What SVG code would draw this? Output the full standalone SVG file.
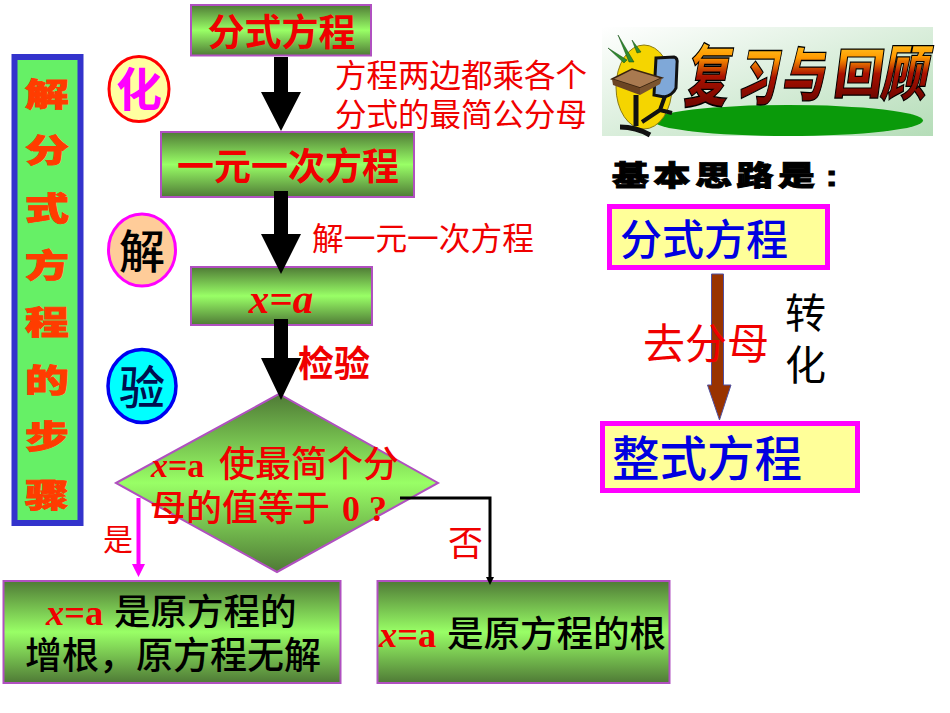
<svg xmlns="http://www.w3.org/2000/svg" width="950" height="713" viewBox="0 0 950 713">
<style>
text{font-family:"Noto Sans CJK SC","Liberation Serif",serif}
.fc{stroke:#B050C0;stroke-width:2;fill:url(#g)}
.ctr{text-anchor:middle}
.r{fill:#F00000}
.hb{font-weight:700}
.st{fill:#FF3C00;stroke:#FF3C00;stroke-width:1.2;font-weight:900;font-size:44px;text-anchor:middle}
.lat{font-family:"Liberation Serif",serif;font-weight:700}
.it{font-style:italic}
.logo{font-weight:900;font-size:56px;text-anchor:middle;stroke:#000;stroke-width:1.2;fill:url(#lg)}
.mag{fill:#FFFF99;stroke:#FF00FF;stroke-width:5}
</style>
<defs>
<linearGradient id="g" x1="0" y1="0" x2="0" y2="1"><stop offset="0" stop-color="#4F7A36"/><stop offset=".5" stop-color="#99FF66"/><stop offset="1" stop-color="#4F7A36"/></linearGradient>
<linearGradient id="lg" x1="0" y1="0" x2="0" y2="1"><stop offset="0" stop-color="#FFEE44"/><stop offset=".35" stop-color="#FF9900"/><stop offset=".55" stop-color="#AA1100"/><stop offset="1" stop-color="#550000"/></linearGradient>
<linearGradient id="bg" x1="0" y1="0" x2="1" y2="1"><stop offset="0" stop-color="#FFFFFF"/><stop offset="1" stop-color="#B5DDB8"/></linearGradient>
</defs>

<g id="side-panel"><rect x="14.500" y="57" width="66" height="466" fill="#66F066" stroke="#3333CC" stroke-width="6"/>
<text class="st" transform="translate(47,106) scale(1,.72)">解</text><text class="st" transform="translate(47,162) scale(1,.72)">分</text><text class="st" transform="translate(47,220) scale(1,.72)">式</text><text class="st" transform="translate(47,277) scale(1,.72)">方</text><text class="st" transform="translate(47,334) scale(1,.72)">程</text><text class="st" transform="translate(47,392) scale(1,.72)">的</text><text class="st" transform="translate(47,448) scale(1,.72)">步</text><text class="st" transform="translate(47,507) scale(1,.72)">骤</text></g>

<g id="step-hua"><ellipse cx="139" cy="89" rx="30" ry="32.500" fill="#FFFFA0" stroke="#FF0000" stroke-width="3"/><text class="ctr hb" x="139" y="106" font-size="46" fill="#FF00FF">化</text></g>
<g id="step-jie"><ellipse cx="142" cy="250" rx="33.500" ry="36" fill="#FFCC99" stroke="#FF00FF" stroke-width="3"/><text class="ctr" x="142" y="268" font-size="46" font-weight="500" fill="#000">解</text></g>
<g id="step-yan"><ellipse cx="142" cy="386" rx="34" ry="36.500" fill="#00FFFF" stroke="#0000F0" stroke-width="3.500"/><text class="ctr" x="142" y="404" font-size="46" font-weight="500" fill="#001050">验</text></g>

<g id="node-fenshi"><rect class="fc" x="191" y="5" width="180" height="50.500"/><text class="ctr hb r" x="281.500" y="46" font-size="37">分式方程</text></g>
<g id="node-yiyuan"><rect class="fc" x="161" y="132" width="253" height="65"/><text class="ctr hb r" x="288" y="180" font-size="37">一元一次方程</text></g>
<g id="node-xa"><rect class="fc" x="191" y="267" width="181" height="58"/><text class="ctr lat it r" x="281" y="313" font-size="41">x=a</text></g>
<g id="node-check"><polygon class="fc" points="116,483 279,394 438,483 277,572"/>
<text class="r" x="151" y="477" font-size="36"><tspan class="lat it" font-size="34">x</tspan><tspan class="lat" font-size="34">=a</tspan><tspan font-weight="500" x="219">使最简个分</tspan></text>
<text class="r" x="150" y="521" font-size="36" font-weight="500">母的值等于<tspan class="lat" x="342">0 ?</tspan></text></g>
<g id="node-zeng"><rect class="fc" x="3.500" y="581" width="337" height="102"/>
<text x="46" y="625" font-size="36.500"><tspan class="lat it r">x</tspan><tspan class="lat r">=a</tspan><tspan font-weight="500" x="114">是原方程的</tspan></text>
<text x="25" y="669" font-size="37" font-weight="500">增根，原方程无解</text></g>
<g id="node-root"><rect class="fc" x="377.500" y="581" width="292" height="102"/>
<text x="379" y="647" font-size="36.500"><tspan class="lat it r">x</tspan><tspan class="lat r">=a</tspan><tspan font-weight="500" x="447">是原方程的根</tspan></text></g>

<g id="connectors">
<polygon fill="#000" points="274,57 288,57 288,92 301,92 281,131 261,92 274,92"/>
<polygon fill="#000" points="274,191 288,191 288,234 301,234 281,274 261,234 274,234"/>
<polygon fill="#000" points="274,319 288,319 288,358 301,358 281,400 261,358 274,358"/>
<polygon fill="#FF00FF" points="136.500,498 140.500,498 140.500,564 145,564 138.500,577 132,564 136.500,564"/>
<path d="M400 498H490V578" fill="none" stroke="#000" stroke-width="3"/>
<polygon fill="#000" points="486,577 494,577 490,585"/>
<polygon fill="#993300" stroke="#5050A0" stroke-width="1" points="711.500,274 723.500,274 723.500,385 731,385 719.500,420 707.500,385 711.500,385"/>
</g>

<text id="label-a1" class="r" x="335" y="87" font-size="31.500">方程两边都乘各个</text><text id="label-a2" class="r" x="335" y="126" font-size="31.500">分式的最简公分母</text>
<text id="label-b" class="r" x="312" y="250" font-size="31.700">解一元一次方程</text>
<text id="label-c" class="r hb" x="298" y="377" font-size="36">检验</text>
<text id="label-yes" class="r" x="103" y="550" font-size="30">是</text>
<text id="label-no" class="r" x="448" y="556" font-size="35">否</text>

<g id="logo">
<rect x="602" y="27" width="331" height="109" fill="url(#bg)"/>
<ellipse cx="788" cy="120.500" rx="135" ry="15.500" fill="#0A9A0A"/>
<ellipse cx="644" cy="87" rx="28" ry="42" fill="#F5D500" stroke="#8A7A10" stroke-width="1"/>
<polygon fill="#2E8B2E" stroke="#0E4A0E" stroke-width=".5" points="608,48 627,60 624,63"/>
<polygon fill="#2E8B2E" stroke="#0E4A0E" stroke-width=".5" points="618,35 634,62 629,62"/>
<polygon fill="#2E8B2E" stroke="#0E4A0E" stroke-width=".5" points="632,40 641,52 637,53"/>
<path d="M656 58L674 57Q678 58 677 64L676 88Q673 95 664 97L654 95Z" fill="#7FA8D8" stroke="#111" stroke-width="3"/>
<path d="M665 96L660 110L672 113M660 110L642 122" fill="none" stroke="#111" stroke-width="4"/>
<polygon points="612,79 632,69 662,78 640,88" fill="#A97A50" stroke="#3A2410" stroke-width="1.500"/>
<polygon points="612,79 640,88 640,95 613,85" fill="#6B4423"/>
<polygon points="640,88 662,78 660,84 640,95" fill="#7B5430"/>
<path d="M636 95L636 126M620 127Q636 127 650 135" fill="none" stroke="#111" stroke-width="5"/>
<text class="logo" transform="translate(705,101) scale(.78,1.22) skewX(-16)">复</text>
<text class="logo" transform="translate(756,100) scale(.72,1.1) skewX(-16)">习</text>
<text class="logo" transform="translate(803,96) scale(.78,1.05) skewX(-10)">与</text>
<text class="logo" transform="translate(857,93) scale(.88,.95) skewX(-8)">回</text>
<text class="logo" transform="translate(903,95) scale(.82,1.05) skewX(-14)">顾</text>
</g>
<text id="subtitle" transform="translate(612,186) scale(1,.78)" font-size="37" font-weight="900" stroke="#000" stroke-width="1.200" letter-spacing="4.500">基本思路是<tspan font-family="Liberation Sans" dx="6">:</tspan></text>

<g id="box-fenshi"><rect class="mag" x="609.500" y="206.500" width="218" height="61"/><text x="620" y="255" font-size="42" font-weight="500" fill="#0000E0">分式方程</text></g>
<g id="box-zhengshi"><rect class="mag" x="602.500" y="423.500" width="255" height="67"/><text x="612" y="476" font-size="47.500" font-weight="500" fill="#0000E0">整式方程</text></g>
<text id="label-qu" class="r" x="643" y="359" font-size="42">去分母</text>
<text id="label-zhuan" font-size="41"><tspan x="785" y="328">转</tspan><tspan x="785" y="380">化</tspan></text>
</svg>
